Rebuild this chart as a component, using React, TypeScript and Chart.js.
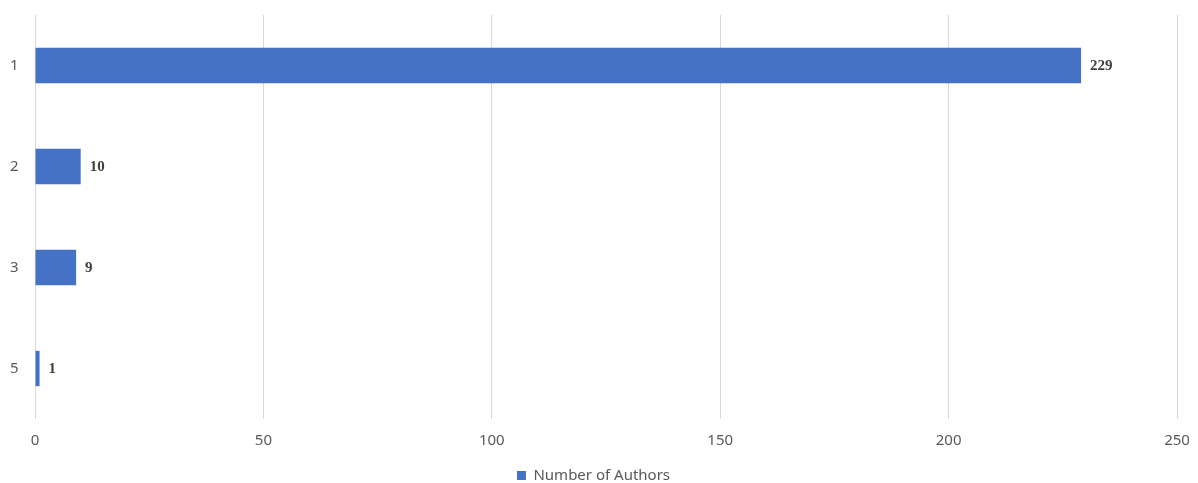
import React, { useEffect, useRef } from "react";
import { Chart, registerables } from "chart.js";

Chart.register(...registerables);

const categories = ["1", "2", "3", "5"];
const authorCounts = [229, 10, 9, 1];
const seriesLabel = "Number of Authors";
const xMin = 0;
const xMax = 250;
const xStep = 50;

const valueLabels = {
  id: "valueLabels",
  afterDatasetsDraw(chart: any) {
    const ctx = chart.ctx;
    const meta = chart.getDatasetMeta(0);
    ctx.save();
    ctx.font = "bold 15px 'Liberation Serif', 'DejaVu Serif', serif";
    ctx.fillStyle = "#404040";
    ctx.textAlign = "left";
    ctx.textBaseline = "middle";
    meta.data.forEach((el: any, i: number) => {
      ctx.fillText(String(chart.data.datasets[0].data[i]), el.x + 9, el.y + 1);
    });
    ctx.restore();
  },
};

export default function App() {
  const ref = useRef<HTMLCanvasElement | null>(null);
  useEffect(() => {
    document.body.style.margin = "0";
    const chart = new Chart(ref.current as HTMLCanvasElement, {
      type: "bar",
      data: {
        labels: categories,
        datasets: [
          {
            label: seriesLabel,
            data: authorCounts,
            backgroundColor: "#4472C4",
            borderWidth: 0,
            barPercentage: 0.7,
            categoryPercentage: 0.5,
          },
        ],
      },
      options: {
        indexAxis: "y",
        responsive: false,
        animation: false,
        layout: { padding: { top: 15, right: 21, left: 10, bottom: -10 } },
        scales: {
          x: {
            min: xMin,
            max: xMax,
            ticks: {
              stepSize: xStep,
              color: "#595959",
              padding: 13,
              font: { family: "'Noto Sans', sans-serif", size: 15 },
            },
            grid: { color: "#d9d9d9", lineWidth: 1, drawTicks: false },
            border: { display: false },
            afterFit: (axis: any) => {
              axis.height = 48;
              axis.paddingLeft = 0;
              axis.paddingRight = 0;
            },
          },
          y: {
            ticks: {
              color: "#595959",
              padding: 0,
              crossAlign: "far",
              font: { family: "'Noto Sans', sans-serif", size: 15 },
            },
            grid: { display: false, drawTicks: false },
            border: { display: false },
            afterFit: (axis: any) => {
              axis.width = 25;
              axis.paddingTop = 0;
              axis.paddingBottom = 0;
            },
          },
        },
        plugins: {
          legend: {
            position: "bottom",
            labels: {
              color: "#595959",
              boxWidth: 9,
              boxHeight: 9,
              padding: 1,
              font: { family: "'Noto Sans', sans-serif", size: 15 },
            },
          },
          tooltip: { enabled: false },
        },
      },
      plugins: [valueLabels],
    });
    return () => chart.destroy();
  }, []);
  return (
    <div style={{ width: 1198, height: 483 }}>
      <canvas ref={ref} width={1198} height={483} style={{ display: "block" }} />
    </div>
  );
}
